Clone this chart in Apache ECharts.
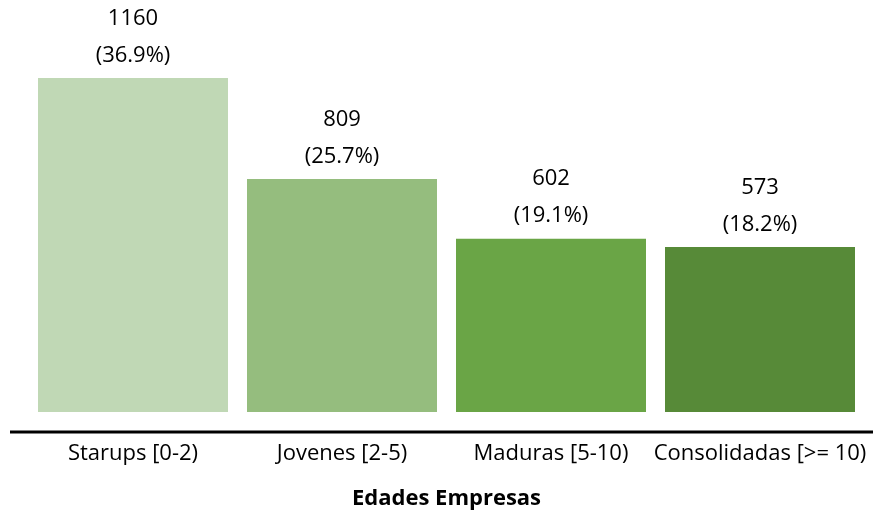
<!DOCTYPE html>
<html>
<head>
<meta charset="utf-8">
<script src="https://cdn.jsdelivr.net/npm/echarts@6/dist/echarts.min.js"></script>
<style>html,body{margin:0;padding:0;background:#fff}#c{width:873px;height:512px}</style>
</head>
<body>
<div id="c"></div>
<script>
var categories = ['Starups [0-2)', 'Jovenes [2-5)', 'Maduras [5-10)', 'Consolidadas [>= 10)'];
var values = [1160, 809, 602, 573];
var percents = ['36.9%', '25.7%', '19.1%', '18.2%'];
var colors = ['#c0d8b5', '#95bd7e', '#6aa546', '#578a38'];
var FONT = 'Open Sans';

var chart = echarts.init(document.getElementById('c'));
chart.setOption({
  animation: false,
  grid: { left: 28.5, right: 8.5, top: 9, bottom: 100, containLabel: false, outerBoundsMode: 'none' },
  xAxis: {
    type: 'category',
    data: categories,
    axisLine: { show: false },
    axisTick: { show: false },
    axisLabel: { color: '#000', fontFamily: FONT, fontSize: 22, margin: 31, interval: 0, hideOverlap: false },
    name: 'Edades Empresas',
    nameLocation: 'middle',
    nameGap: 76,
    nameTextStyle: { color: '#000', fontFamily: FONT, fontSize: 22, fontWeight: 'bold' }
  },
  yAxis: { type: 'value', min: 0, max: 1400, show: false, splitLine: { show: false } },
  series: [{
    type: 'bar',
    barWidth: 190,
    data: values.map(function (v, i) { return { value: v, itemStyle: { color: colors[i] } }; }),
    label: {
      show: true,
      position: 'top',
      distance: 4,
      color: '#000',
      fontFamily: FONT,
      fontSize: 22,
      lineHeight: 37,
      formatter: function (p) { return p.value + '\n(' + percents[p.dataIndex] + ')'; }
    }
  }],
  graphic: [{
    type: 'line',
    shape: { x1: 10, y1: 432, x2: 873, y2: 432 },
    style: { stroke: '#000', lineWidth: 3 }
  }]
});
</script>
</body>
</html>
